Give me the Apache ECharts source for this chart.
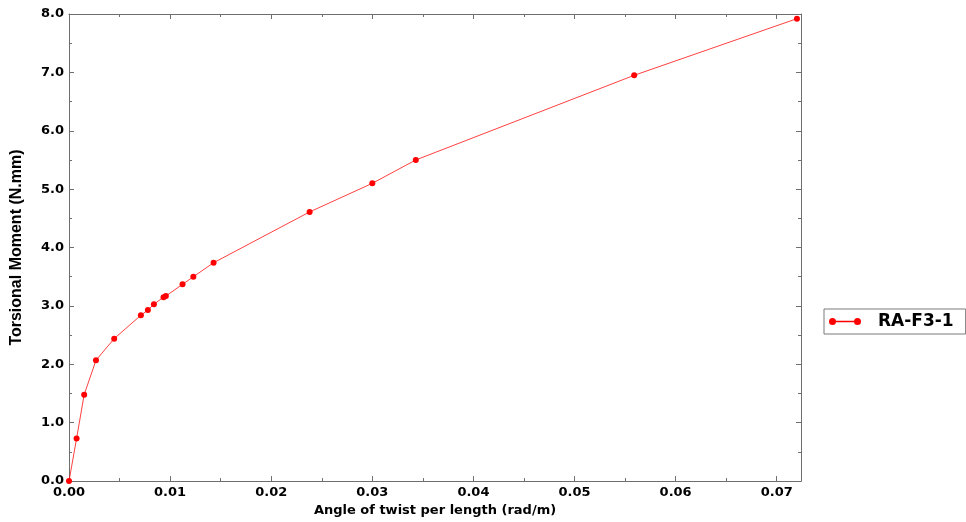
<!DOCTYPE html>
<html>
<head>
<meta charset="utf-8">
<script src="https://cdn.jsdelivr.net/npm/echarts@6/dist/echarts.min.js"></script>
<style>
html,body{margin:0;padding:0;background:#fff;}
#chart{width:966px;height:522px;}
</style>
</head>
<body>
<div id="chart"></div>
<script>
// Data
var seriesName = 'RA-F3-1';
var twistAngle = [0, 0.00075, 0.0015, 0.00267, 0.00447, 0.00711, 0.0078, 0.0084, 0.00935, 0.00958, 0.01123, 0.0123, 0.0143, 0.0238, 0.0300, 0.0343, 0.0559, 0.0720];
var torsionalMoment = [0, 0.73, 1.48, 2.07, 2.44, 2.84, 2.93, 3.03, 3.15, 3.17, 3.37, 3.50, 3.74, 4.61, 5.10, 5.50, 6.95, 7.92];
var xAxisTitle = 'Angle of twist per length (rad/m)';
var yAxisTitle = 'Torsional Moment (N.mm)';

var points = twistAngle.map(function (x, i) { return [x, torsionalMoment[i]]; });

var axisColor = '#6e6e6e';
var xMax = 0.0724;

function xFmt(v) {
  var r = Math.round(v * 100);
  if (Math.abs(v * 100 - r) > 1e-6) return '';
  return (r / 100).toFixed(2);
}

function frameAxis(extra) {
  var base = {
    type: 'value',
    axisLine: {show: true, onZero: false, lineStyle: {color: axisColor, width: 1}},
    axisTick: {show: true, inside: true, length: 5, lineStyle: {color: axisColor}},
    minorTick: {show: true, splitNumber: 2, length: 3, lineStyle: {color: axisColor}},
    splitLine: {show: false}
  };
  for (var k in extra) base[k] = extra[k];
  return base;
}

var chart = echarts.init(document.getElementById('chart'), null, {renderer: 'canvas'});
chart.setOption({
  animation: false,
  backgroundColor: '#ffffff',
  grid: {left: 69, right: 165, top: 14, bottom: 40, containLabel: false},
  legend: {
    left: 824, top: 309,
    orient: 'vertical',
    padding: [4, 12, 4, 5],
    borderColor: '#7a7a7a', borderWidth: 1, borderRadius: 0,
    itemWidth: 32, itemHeight: 7,
    icon: 'path://M0,3.5 A3.5,3.5 0 1,1 7,3.5 A3.5,3.5 0 1,1 0,3.5 Z M3.5,2.8 L28.5,2.8 L28.5,4.2 L3.5,4.2 Z M25,3.5 A3.5,3.5 0 1,1 32,3.5 A3.5,3.5 0 1,1 25,3.5 Z',
    itemStyle: {color: '#ff0000', borderWidth: 0},
    lineStyle: {color: 'rgba(255,0,0,0.75)', width: 1},
    textStyle: {fontFamily: 'DejaVu Sans', fontWeight: 'bold', fontSize: 17, color: '#000', padding: [0, 0, 0, 12]},
    data: [seriesName]
  },
  xAxis: [frameAxis({
    min: 0, max: xMax, interval: 0.01,
    name: xAxisTitle, nameLocation: 'middle', nameGap: 21,
    nameTextStyle: {fontFamily: 'DejaVu Sans', fontWeight: 'bold', fontSize: 13, color: '#000'},
    axisLabel: {margin: 5, formatter: xFmt, showMaxLabel: false, fontFamily: 'DejaVu Sans', fontWeight: 'bold', fontSize: 13, color: '#000'}
  }), frameAxis({
    position: 'top', min: 0, max: xMax, interval: 0.01,
    axisLabel: {show: false}
  })],
  yAxis: [frameAxis({
    min: 0, max: 8, interval: 1,
    name: yAxisTitle, nameLocation: 'middle', nameGap: 44, nameRotate: 90,
    nameTextStyle: {fontFamily: 'Liberation Sans', fontWeight: 'bold', fontSize: 16, color: '#000'},
    axisLabel: {margin: 5, formatter: function (v) { return v.toFixed(1); }, fontFamily: 'DejaVu Sans', fontWeight: 'bold', fontSize: 13, color: '#000'}
  }), frameAxis({
    position: 'right', min: 0, max: 8, interval: 1,
    axisLabel: {show: false}
  })],
  series: [{
    name: seriesName,
    type: 'line',
    data: points,
    xAxisIndex: 0, yAxisIndex: 0,
    symbol: 'circle', symbolSize: 6,
    itemStyle: {color: '#ff0000'},
    lineStyle: {color: 'rgba(255,0,0,0.75)', width: 1},
    clip: false
  }]
});
</script>
</body>
</html>
